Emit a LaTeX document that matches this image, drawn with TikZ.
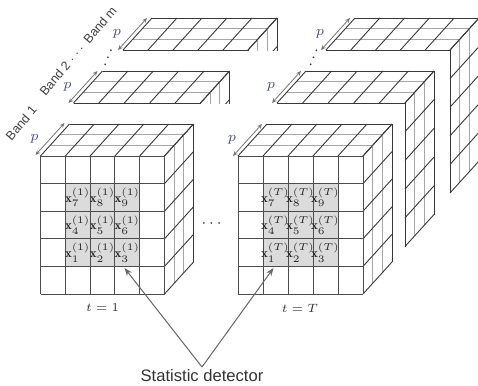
\documentclass[tikz,border=0pt]{standalone}
\usepackage{amsmath,amssymb}
\usepackage{fontspec}
\setsansfont{Liberation Sans}
\usetikzlibrary{arrows.meta}
\definecolor{pblue}{RGB}{70,80,130}

% one depth slice of a block (three slices per block)
\def\dpx{9.667}
\def\dpy{-10.667}

\tikzset{
    edgeline/.style={line width=0.45pt, black!78},
    depthline/.style={line width=0.4pt, black!35},
    gridline/.style={line width=0.45pt, black!70},
    cellshade/.style={fill=black!14},
    parrow/.style={
        line width=0.4pt,
        black!55,
        {Stealth[length=2.4pt, width=2pt]}-{Stealth[length=2.4pt, width=2pt]}
    },
    plabel/.style={left=2.2pt, pblue, font=\fontsize{7.5}{8}\selectfont},
    xlabel/.style={black!85, inner sep=0pt, font=\fontsize{6.4}{7}\selectfont},
    tlabel/.style={black!80, font=\fontsize{6}{7}\selectfont},
    dotlabel/.style={black!80, inner sep=0pt, font=\fontsize{8.5}{9}\selectfont},
    bandtext/.style={rotate=50, black!75, inner sep=0pt, font=\sffamily\fontsize{6.3}{8}\selectfont},
    dettext/.style={black!80, inner sep=1pt, font=\sffamily\fontsize{8.3}{10}\selectfont},
    % grey arrows from the caption to the windows
    detarrow/.style={
        line width=0.5pt,
        black!60,
        -{Stealth[length=4pt, width=3pt]}
    }
}

% #1,#2 = top left corner of the front face, #3 = cell width, #4 = cell height
\newcommand{\topface}[4]{%
    \foreach \k in {1,2}
        \draw[depthline] ({#1+\k*\dpx}, {#2+\k*\dpy}) -- ++({5*#3}, 0);
    \foreach \i in {0,...,5}
        \draw[edgeline] ({#1+\i*#3}, #2) -- ++({3*\dpx}, {3*\dpy});
    \draw[edgeline] (#1, #2) -- ++({5*#3}, 0);
    \draw[edgeline] ({#1+3*\dpx}, {#2+3*\dpy}) -- ++({5*#3}, 0);
}
\newcommand{\sideface}[4]{%
    \foreach \k in {1,2}
        \draw[depthline] ({#1+5*#3+\k*\dpx}, {#2+\k*\dpy}) -- ++(0, {5*#4});
    \foreach \j in {0,...,5}
        \draw[edgeline] ({#1+5*#3}, {#2+\j*#4}) -- ++({3*\dpx}, {3*\dpy});
    \draw[edgeline] ({#1+5*#3}, #2) -- ++(0, {5*#4});
    \draw[edgeline] ({#1+5*#3+3*\dpx}, {#2+3*\dpy}) -- ++(0, {5*#4});
}
\newcommand{\frontface}[4]{%
    \fill[cellshade] ({#1+#3}, {#2+#4}) rectangle ++({3*#3}, {3*#4});
    \foreach \i in {0,...,5}
        \draw[gridline] ({#1+\i*#3}, #2) -- ++(0, {5*#4});
    \foreach \j in {0,...,5}
        \draw[gridline] (#1, {#2+\j*#4}) -- ++({5*#3}, 0);
}

\begin{document}
\begin{tikzpicture}[x=0.5pt, y=-0.5pt]
    \useasboundingbox (0,0) rectangle (478,386);

    % left stack, t = 1
    \topface{123}{50}{25}{28.6}
    \begin{scope}
        \clip (247,50) rectangle (290,5);
        \sideface{123}{50}{25}{28.6}
    \end{scope}
    \topface{73.5}{103}{25.4}{28.6}
    \begin{scope}
        \clip (199,103) rectangle (240,60);
        \sideface{73.5}{103}{25.4}{28.6}
    \end{scope}
    \topface{40.5}{156}{24.8}{27.6}
    \sideface{40.5}{156}{24.8}{27.6}
    \frontface{40.5}{156}{24.8}{27.6}

    % right stack, t = T
    \topface{326}{50}{24.8}{28.6}
    \sideface{326}{50}{24.8}{28.6}
    \topface{277}{103}{25.6}{28.7}
    \sideface{277}{103}{25.6}{28.7}
    \topface{238}{156}{25}{27.6}
    \sideface{238}{156}{25}{27.6}
    \frontface{238}{156}{25}{27.6}

    \foreach \n/\c/\r in {7/2/2,8/3/2,9/4/2,4/2/3,5/3/3,6/4/3,1/2/4,2/3/4,3/4/4} {
        \node[xlabel] (a\n) at ({40.5+(\c-0.5)*24.8}, {156+(\r-0.5)*27.6}) {$\mathbf{x}^{(1)}_{\n}$};
        \node[xlabel] (b\n) at ({238+(\c-0.5)*25}, {156+(\r-0.5)*27.6}) {$\mathbf{x}^{(T)}_{\n}$};
    }

    % p arrows along the depth edges
    \draw[parrow] (35.5,155) -- node[plabel] (pa1) {$p$} ++(29,-32);
    \draw[parrow] (68.5,103) -- node[plabel] (pa2) {$p$} ++(29,-32);
    \draw[parrow] (118,50) -- node[plabel] (pam) {$p$} ++(29,-32);
    \draw[parrow] (233,156) -- node[plabel] (pb1) {$p$} ++(29,-32);
    \draw[parrow] (272,103) -- node[plabel] (pb2) {$p$} ++(29,-32);
    \draw[parrow] (321,50) -- node[plabel] (pbm) {$p$} ++(29,-32);

    \node[dotlabel, rotate=68] (skipa) at (109,57) {$\cdots$};
    \node[dotlabel, rotate=68] (skipb) at (314.5,56.5) {$\cdots$};
    \node[dotlabel] (skipt) at (213,224) {$\cdots$};

    \node[bandtext] (band1) at (21,123) {Band 1};
    \node[bandtext] (bandm) at (78,51) {Band 2 $\cdots$ Band m};

    \node[tlabel] (t1) at (102.5,308) {$t=1$};
    \node[tlabel] (tT) at (300,308) {$t=T$};

    \node[dettext, anchor=north] (det) at (202,367) {Statistic detector};
    \coordinate (tipA) at (124.5,268);
    \coordinate (tipB) at (273.5,268);
    \draw[detarrow] (det.north) -- (tipA);
    \draw[detarrow] (det.north) -- (tipB);
\end{tikzpicture}
\end{document}
